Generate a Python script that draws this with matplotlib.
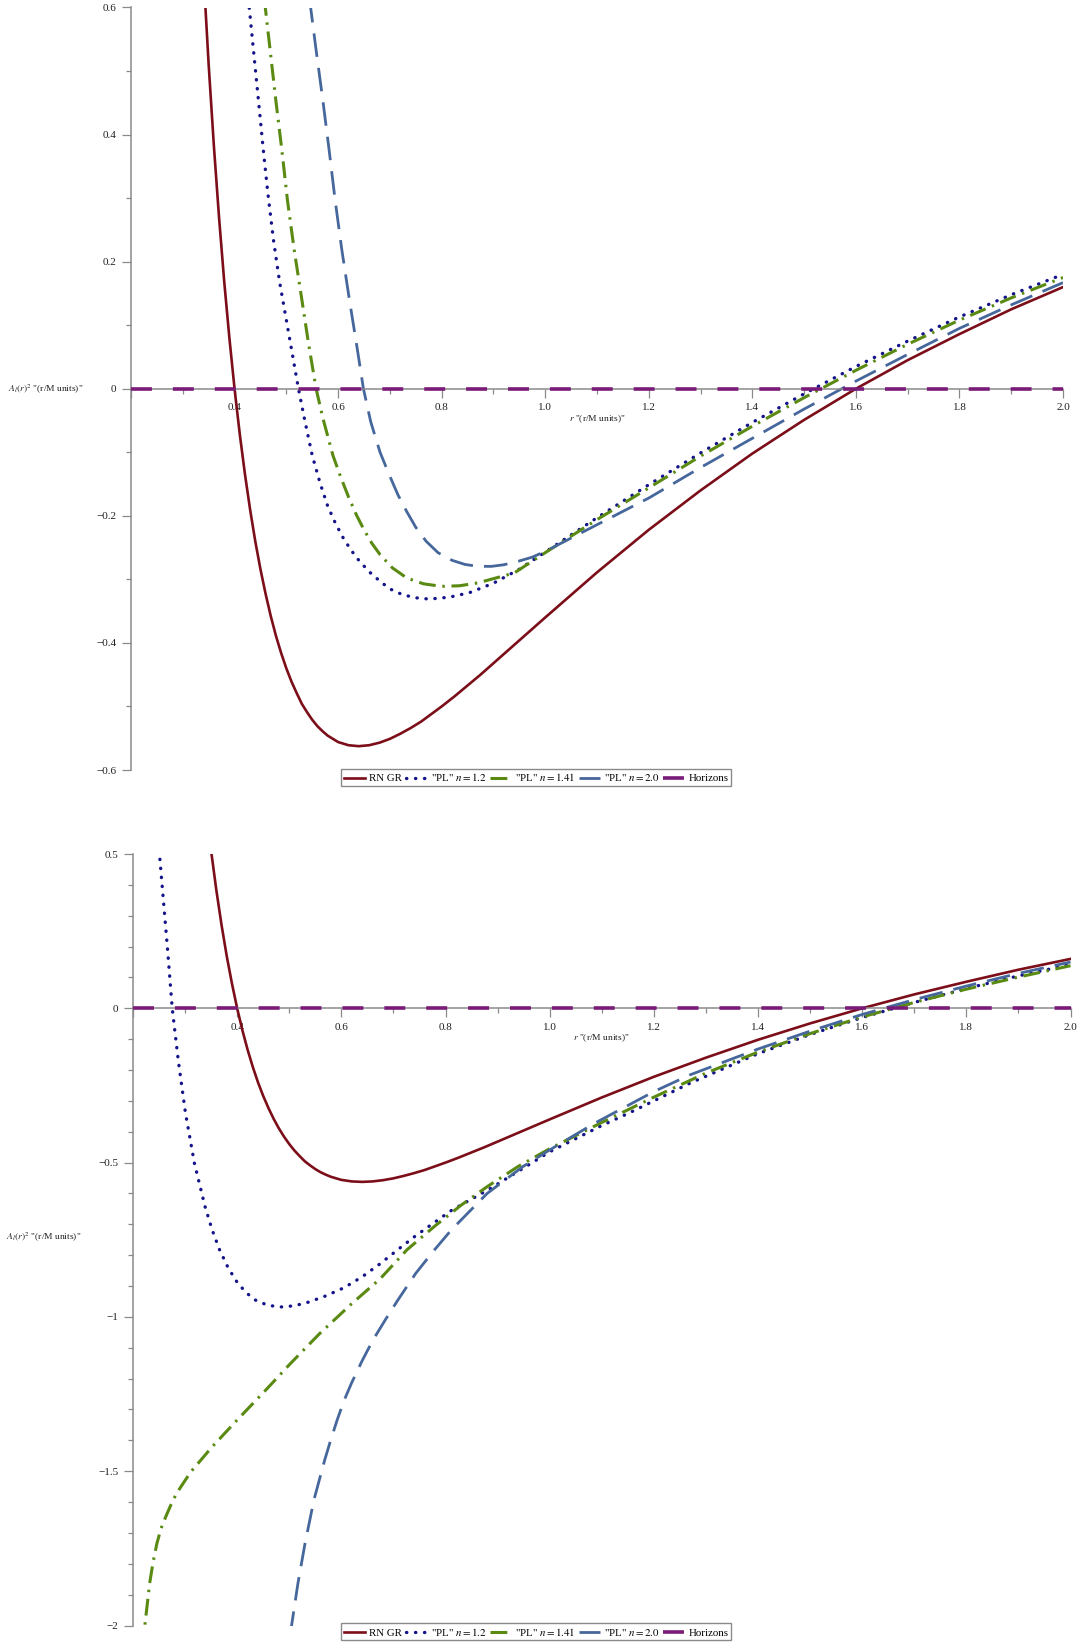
import matplotlib.pyplot as plt
from matplotlib.ticker import MultipleLocator

plt.rcParams['font.family'] = ['Liberation Serif', 'DejaVu Serif']
plt.rcParams['mathtext.fontset'] = 'stix'

# ---- data ----
rn_r = [0.34, 0.35, 0.36, 0.37, 0.38, 0.39, 0.40, 0.41, 0.42, 0.43, 0.44, 0.45, 0.46, 0.47,
        0.48, 0.49, 0.50, 0.51, 0.52, 0.53, 0.54, 0.55, 0.56, 0.57, 0.58, 0.59, 0.60, 0.62,
        0.64, 0.66, 0.68, 0.70, 0.72, 0.74, 0.76, 0.78, 0.80, 0.825, 0.85, 0.875, 0.90, 0.95,
        1.00, 1.10, 1.20, 1.30, 1.40, 1.50, 1.60, 1.70, 1.80, 1.90, 2.00]
rn_f = [0.654, 0.510, 0.383, 0.270, 0.169, 0.080, 0.0, -0.071, -0.134, -0.190, -0.240, -0.284,
        -0.323, -0.358, -0.389, -0.416, -0.440, -0.461, -0.479, -0.496, -0.509, -0.521, -0.531,
        -0.539, -0.546, -0.551, -0.556, -0.561, -0.5625, -0.561, -0.557, -0.551, -0.543,
        -0.534, -0.524, -0.512, -0.500, -0.484, -0.467, -0.450, -0.432, -0.396, -0.360,
        -0.289, -0.222, -0.160, -0.102, -0.049, 0.0, 0.045, 0.086, 0.125, 0.160]

# top panel
pl12_top_r = [0.4235, 0.4269, 0.4365, 0.446, 0.455, 0.464, 0.475, 0.487, 0.4996, 0.5115, 0.5234,
              0.5344, 0.55, 0.565, 0.58, 0.595, 0.61, 0.625, 0.64, 0.66, 0.681, 0.70, 0.724,
              0.75, 0.776, 0.815, 0.8535, 0.90, 0.95, 1.0, 1.1, 1.2, 1.3, 1.4, 1.5, 1.6, 1.7,
              1.8, 1.9, 2.0]
pl12_top_f = [0.64, 0.612, 0.533, 0.455, 0.380, 0.310, 0.235, 0.168, 0.110, 0.055, 0.0,
              -0.045, -0.105, -0.148, -0.185, -0.212, -0.235, -0.254, -0.27, -0.288, -0.303,
              -0.315, -0.324, -0.329, -0.331, -0.328, -0.321, -0.306, -0.284, -0.257, -0.203,
              -0.151, -0.101, -0.053, -0.008, 0.035, 0.075, 0.113, 0.148, 0.180]

pl141_top_r = [0.455, 0.4577, 0.4687, 0.4797, 0.4913, 0.5021, 0.5151, 0.530, 0.5427, 0.5575,
               0.5705, 0.59, 0.605, 0.62, 0.635, 0.65, 0.665, 0.681, 0.705, 0.733, 0.765, 0.80,
               0.835, 0.87, 0.94, 1.0, 1.1, 1.2, 1.3, 1.4, 1.5, 1.6, 1.7, 1.8, 1.9, 2.0]
pl141_top_f = [0.632, 0.612, 0.533, 0.454, 0.376, 0.297, 0.219, 0.140, 0.072, 0.0, -0.046,
               -0.105, -0.139, -0.170, -0.198, -0.222, -0.243, -0.261, -0.282, -0.298, -0.307,
               -0.311, -0.310, -0.3055, -0.290, -0.258, -0.206, -0.156, -0.106, -0.059, -0.014,
               0.029, 0.070, 0.108, 0.143, 0.175]

pl20_top_r = [0.543, 0.546, 0.5575, 0.5705, 0.5826, 0.5942, 0.6071, 0.6218, 0.636, 0.6489, 0.663,
              0.681, 0.698, 0.7156, 0.733, 0.75, 0.77, 0.793, 0.82, 0.845, 0.87, 0.8965, 0.92,
              0.948, 0.975, 1.0, 1.069, 1.2, 1.3, 1.4, 1.5, 1.6, 1.7, 1.8, 1.9, 2.0]
pl20_top_f = [0.625, 0.606, 0.533, 0.454, 0.376, 0.297, 0.219, 0.140, 0.068, 0.0, -0.052,
              -0.100, -0.134, -0.167, -0.194, -0.218, -0.240, -0.258, -0.270, -0.2765, -0.2795,
              -0.2795, -0.277, -0.2715, -0.265, -0.256, -0.227, -0.172, -0.124, -0.078, -0.032,
              0.012, 0.054, 0.095, 0.132, 0.167]

# bottom panel
pl12_bot_r = [0.247, 0.2493, 0.2576, 0.2664, 0.2753, 0.287, 0.3008, 0.3179, 0.3384, 0.352,
              0.3658, 0.383, 0.40, 0.417, 0.4344, 0.458, 0.4823, 0.51, 0.5372, 0.57, 0.6058,
              0.64, 0.6743, 0.71, 0.7428, 0.8113, 0.8799, 0.94, 1.0, 1.1, 1.154, 1.2, 1.269,
              1.4, 1.5, 1.6, 1.7, 1.8, 1.9, 2.0]
pl12_bot_f = [0.57, 0.53, 0.365, 0.19, 0.0, -0.17, -0.34, -0.502, -0.643, -0.718, -0.781,
              -0.842, -0.888, -0.921, -0.945, -0.962, -0.968, -0.964, -0.952, -0.932, -0.905,
              -0.870, -0.828, -0.780, -0.737, -0.655, -0.590, -0.528, -0.465, -0.38, -0.338,
              -0.30, -0.243, -0.147, -0.085, -0.03, 0.019, 0.064, 0.105, 0.142]

pl141_bot_r = [0.2165, 0.2232, 0.232, 0.2385, 0.2459, 0.254, 0.263, 0.272, 0.2835, 0.311, 0.352,
               0.40, 0.4549, 0.5029, 0.5578, 0.6194, 0.6743, 0.7257, 0.78, 0.83, 0.88, 0.94,
               1.0, 1.1, 1.2, 1.3, 1.4, 1.5, 1.6, 1.7, 1.8, 1.9, 2.0]
pl141_bot_f = [-2.09, -1.993, -1.863, -1.795, -1.734, -1.685, -1.647, -1.612, -1.572, -1.502,
               -1.421, -1.334, -1.237, -1.150, -1.055, -0.958, -0.877, -0.783, -0.705, -0.638,
               -0.578, -0.512, -0.455, -0.37, -0.288, -0.21, -0.142, -0.082, -0.028, 0.019,
               0.062, 0.101, 0.138]

pl20_bot_r = [0.5018, 0.5167, 0.5303, 0.5474, 0.568, 0.58, 0.592, 0.605, 0.6194, 0.64, 0.6607,
              0.685, 0.7087, 0.7428, 0.7772, 0.8113, 0.8799, 0.9486, 1.0, 1.0857, 1.2, 1.269,
              1.4, 1.5, 1.6, 1.7, 1.8, 1.9, 2.0]
pl20_bot_f = [-2.03, -1.863, -1.734, -1.593, -1.464, -1.397, -1.334, -1.272, -1.215, -1.142,
              -1.075, -1.008, -0.945, -0.859, -0.786, -0.718, -0.600, -0.513, -0.459, -0.373,
              -0.27, -0.216, -0.132, -0.074, -0.02, 0.028, 0.072, 0.113, 0.15]

horizon_r = [0.2, 2.0]
horizon_f = [0.0, 0.0]

labels = ['RN GR', r'"PL" $n = 1.2$', r'"PL" $n = 1.41$', r'"PL" $n = 2.0$', 'Horizons']
x_ticks = [0.2, 0.4, 0.6, 0.8, 1.0, 1.2, 1.4, 1.6, 1.8, 2.0]
x_ticklabels = ['', '0.4', '0.6', '0.8', '1.0', '1.2', '1.4', '1.6', '1.8', '2.0']
top_yticks = [-0.6, -0.4, -0.2, 0, 0.2, 0.4, 0.6]
top_yticklabels = ['\u22120.6', '\u22120.4', '\u22120.2', '0', '0.2', '0.4', '0.6']
bot_yticks = [-2, -1.5, -1, -0.5, 0, 0.5]
bot_yticklabels = ['\u22122', '\u22121.5', '\u22121', '\u22120.5', '0', '0.5']

c_red = '#7B0E18'
c_navy = '#14148A'
c_green = '#5A8A12'
c_blue = '#46679C'
c_purple = '#7A1B78'
grey = '#8A8A8A'


def draw_panel(ax, curves, ylim, yticks, yticklabels, ylabel_xy, legend_y):
    lines = []
    l, = ax.plot(rn_r, rn_f, color=c_red, lw=1.9)
    lines.append(l)
    l, = ax.plot(curves[0][0], curves[0][1], color=c_navy, lw=2.4,
                 linestyle=(0, (0.1, 2.6)), dash_capstyle='round')
    lines.append(l)
    l, = ax.plot(curves[1][0], curves[1][1], color=c_green, lw=2.2,
                 linestyle=(0, (5.5, 2.2, 0.8, 2.2)))
    lines.append(l)
    l, = ax.plot(curves[2][0], curves[2][1], color=c_blue, lw=2.0,
                 linestyle=(0, (8.5, 4)))
    lines.append(l)
    l, = ax.plot(horizon_r, horizon_f, color=c_purple, lw=2.6,
                 linestyle=(0, (5.8, 5.8)), zorder=5)
    lines.append(l)

    ax.set_xlim(0.2, 2.0)
    ax.set_ylim(*ylim)
    for s in ['top', 'right']:
        ax.spines[s].set_visible(False)
    ax.spines['bottom'].set_position(('data', 0))
    for s in ['bottom', 'left']:
        ax.spines[s].set_color(grey)
        ax.spines[s].set_linewidth(1.1)
    ax.set_xticks(x_ticks)
    ax.set_xticklabels(x_ticklabels)
    ax.xaxis.set_minor_locator(MultipleLocator(0.1))
    ax.set_yticks(yticks)
    ax.set_yticklabels(yticklabels)
    ax.yaxis.set_minor_locator(MultipleLocator(0.1))
    ax.tick_params(which='major', length=6.5, width=0.9, color=grey, labelsize=8,
                   labelcolor='#222222', pad=4)
    ax.tick_params(which='minor', length=3.5, width=0.9, color=grey)
    ax.patch.set_alpha(0)

    ax.annotate('$r$ "(r/M units)"', xy=(1.1, 0), xycoords='data', xytext=(0, -30),
                textcoords='offset pixels', ha='center', va='center', fontsize=6.8,
                color='#222222')
    fig.text(ylabel_xy[0], ylabel_xy[1], r'$A_{l}(r)^{2}$ "(r/M units)"', ha='center',
             va='center', fontsize=6.8, color='#222222')

    fig.legend(lines, labels, ncol=5, loc='center', bbox_to_anchor=(0.497, legend_y),
               fontsize=7.8, frameon=True, fancybox=False, edgecolor=grey, framealpha=1,
               borderpad=0.25, handlelength=1.9, handletextpad=0.4, columnspacing=0.35,
               borderaxespad=0)


fig = plt.figure(figsize=(10.79, 16.47), dpi=100)
ax1 = fig.add_axes([131 / 1079, 1 - 770 / 1647, (1063 - 131) / 1079, (770 - 7.5) / 1647])
ax2 = fig.add_axes([133 / 1079, 1 - 1625.5 / 1647, (1070.5 - 133) / 1079, (1625.5 - 854) / 1647])

draw_panel(ax1, [(pl12_top_r, pl12_top_f), (pl141_top_r, pl141_top_f), (pl20_top_r, pl20_top_f)],
           (-0.6, 0.6), top_yticks, top_yticklabels, (46 / 1079, 1 - 389 / 1647),
           1 - 777.5 / 1647)
draw_panel(ax2, [(pl12_bot_r, pl12_bot_f), (pl141_bot_r, pl141_bot_f), (pl20_bot_r, pl20_bot_f)],
           (-2.0, 0.5), bot_yticks, bot_yticklabels, (44 / 1079, 1 - 1237 / 1647),
           1 - 1631.5 / 1647)

fig.savefig('out.png', dpi=100)
